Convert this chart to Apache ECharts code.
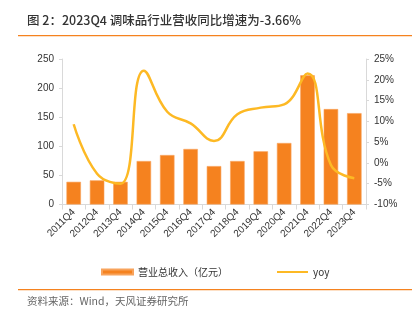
<!DOCTYPE html>
<html>
<head>
<meta charset="utf-8">
<script src="https://cdn.jsdelivr.net/npm/echarts@6/dist/echarts.min.js"></script>
<style>
  html, body { margin: 0; padding: 0; background: #fff; }
  #chart { width: 420px; height: 327px; }
</style>
</head>
<body>
<div id="chart"></div>
<script>
// Quarterly revenue of the condiment industry and its year-over-year growth
const categories = ['2011Q4','2012Q4','2013Q4','2014Q4','2015Q4','2016Q4','2017Q4',
                    '2018Q4','2019Q4','2020Q4','2021Q4','2022Q4','2023Q4'];
const revenue = [39, 41.5, 39, 74.7, 85, 95.4, 66, 74.7, 91.4, 105.7, 222, 164, 157];
const yoy = [9.3, -2.6, -5.0, 22.2, 12.3, 9.5, 5.3, 11.7, 13.3, 14.1, 21.5, -0.5, -3.66];
const leftTicks = [0, 250, 50];      // min, max, interval
const rightTicks = [-10, 25, 5];     // min, max, interval (%)

const chart = echarts.init(document.getElementById('chart'), null, { renderer: 'canvas' });
const font = '"Liberation Sans", "Noto Sans CJK SC", sans-serif';
const cjk = '"Noto Sans CJK SC", sans-serif';
const axisColor = '#d9d9d9';
const labelColor = '#333';
const barColor = '#F5821F';
const lineColor = '#FDB924';

const legendBase = {
  top: 262, itemWidth: 31,
  textStyle: { fontSize: 10, color: '#333', fontFamily: cjk }
};

chart.setOption({
  animation: false,
  textStyle: { fontFamily: font },
  graphic: [
    { type: 'text', left: 27, top: 14,
      style: { text: '图 2：2023Q4 调味品行业营收同比增速为-3.66%', fill: '#333',
               font: '500 12.5px ' + cjk } },
    { type: 'rect', shape: { x: 18, y: 35, width: 394, height: 1.2 },
      style: { fill: barColor } },
    { type: 'rect', shape: { x: 18, y: 289, width: 394, height: 1.2 },
      style: { fill: barColor } },
    { type: 'text', left: 27, top: 296,
      style: { text: '资料来源：Wind，天风证券研究所', fill: '#666',
               font: '10.5px ' + cjk } }
  ],
  legend: [
    Object.assign({}, legendBase, { left: 96, itemHeight: 5,
      data: [{ name: '营业总收入（亿元）', icon: 'rect' }] }),
    Object.assign({}, legendBase, { left: 272, itemHeight: 2,
      data: [{ name: 'yoy', icon: 'rect' }] })
  ],
  grid: { left: 62, right: 54, top: 59, bottom: 122.5, containLabel: false },
  xAxis: {
    type: 'category', data: categories,
    axisLine: { lineStyle: { color: axisColor } },
    axisTick: { show: true, alignWithLabel: false, lineStyle: { color: axisColor } },
    axisLabel: { rotate: 45, fontSize: 10, color: labelColor, interval: 0, margin: 6 }
  },
  yAxis: [
    {
      type: 'value', min: leftTicks[0], max: leftTicks[1], interval: leftTicks[2],
      axisLine: { show: true, lineStyle: { color: axisColor } },
      axisTick: { show: true, length: 3, lineStyle: { color: axisColor } },
      splitLine: { show: false },
      axisLabel: { fontSize: 10, color: labelColor, margin: 8 }
    },
    {
      type: 'value', min: rightTicks[0], max: rightTicks[1], interval: rightTicks[2],
      axisLine: { show: true, lineStyle: { color: axisColor } },
      axisTick: { show: true, length: 3, lineStyle: { color: axisColor } },
      splitLine: { show: false },
      axisLabel: { fontSize: 10, color: labelColor, margin: 8,
                   formatter: v => v + '%' }
    }
  ],
  series: [
    {
      name: '营业总收入（亿元）', type: 'bar', data: revenue, barWidth: '62%',
      itemStyle: { color: barColor, borderColor: '#F8A35C', borderWidth: 0.6 }
    },
    {
      name: 'yoy', type: 'line', yAxisIndex: 1, data: yoy, smooth: 0.45,
      symbol: 'none', lineStyle: { color: lineColor, width: 2.5 },
      itemStyle: { color: lineColor }
    }
  ]
});
</script>
</body>
</html>
